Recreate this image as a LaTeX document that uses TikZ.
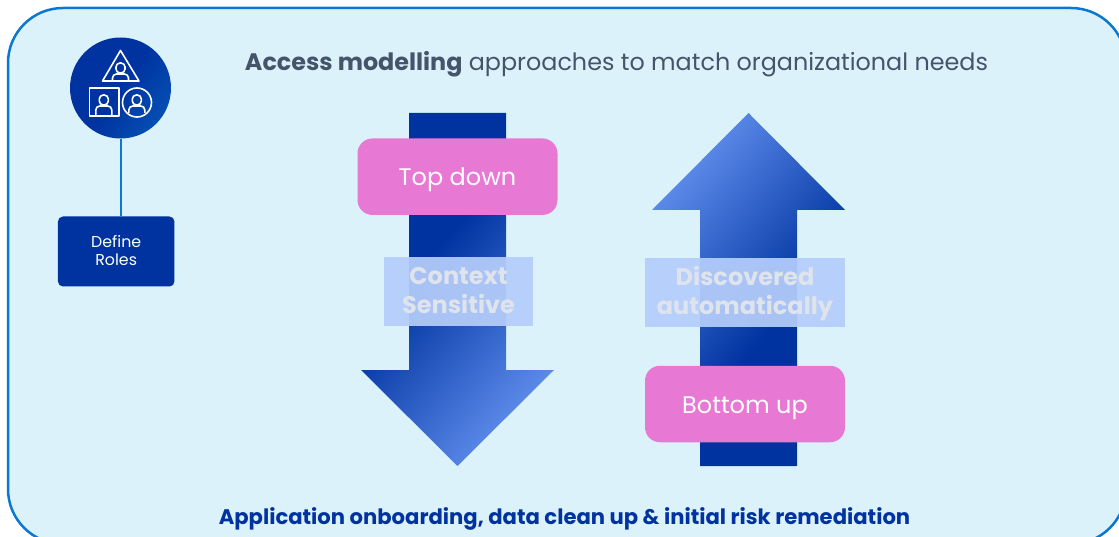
\documentclass[tikz,border=0pt]{standalone}
\usepackage{fontspec}
\setmainfont{Poppins}
\usetikzlibrary{positioning}
\definecolor{panelfill}{HTML}{DCF2FB}
\definecolor{panelline}{HTML}{0A78D2}
\definecolor{navy}{HTML}{0033A0}
\definecolor{sky}{HTML}{5C8BEA}
\definecolor{pinkbox}{HTML}{E779D4}
\definecolor{paleband}{HTML}{B5CDFB}
\definecolor{paletext}{HTML}{DFE4EC}
\definecolor{titlegrey}{HTML}{44546A}
\pgfdeclarehorizontalshading{arrowfade}{100bp}{color(0bp)=(navy); color(42bp)=(navy); color(74bp)=(sky); color(100bp)=(sky)}
\pgfdeclarehorizontalshading{iconfade}{100bp}{color(0bp)=(navy); color(50bp)=(navy); color(75bp)=(navy!60!panelline); color(100bp)=(navy!60!panelline)}
\tikzset{
	tagbox/.style={fill=pinkbox,text=white,rounded corners=15pt,minimum width=200pt,minimum height=76.5pt,text height=18pt,text depth=0pt,font=\fontsize{24}{28}\selectfont},
	paleboxes/.style={fill=paleband,fill opacity=0.93,text opacity=1,text=paletext,align=center,minimum height=69pt,text depth=2pt,font=\fontsize{24}{29}\selectfont\bfseries},
	bigarrow/.style={shading=arrowfade},
	iconline/.style={draw=white,line width=1.6pt,line join=round}
}
\newcommand{\personglyph}[3]{
	\draw[iconline,rounded corners=4pt] (#1-4.5,#2) rectangle (#1+4.5,#2+10);
	\draw[iconline,rounded corners=4pt] (#1-8,#3) -- (#1-8,#2+11) -- (#1+8,#2+11) -- (#1+8,#3);
}
\begin{document}
\begin{tikzpicture}[x=1pt,y=-1pt]
	\useasboundingbox (0,0) rectangle (1119,537);
	\clip (0,0) rectangle (1119,537);
	\draw[panelline,fill=panelfill,line width=2.5pt,rounded corners=55pt] (8,8) rectangle (1126,544);

	\node[anchor=base,font=\fontsize{23.85}{28}\selectfont,text=titlegrey] (title) at (616.5,71) {\textbf{Access modelling} approaches to match organizational needs};

	\node[circle,shading=iconfade,shading angle=-35,minimum size=101pt,inner sep=0pt] (icon) at (120.5,88) {};
	\node[fill=navy,rounded corners=5pt,minimum width=116.5pt,minimum height=70pt,align=center,text=white,text depth=2pt,font=\fontsize{15.8}{18}\selectfont] (roles) at (116.2,251.5) {Define\\Roles};
	\draw[panelline,line width=2pt] (icon.south) -- (icon.south |- roles.north);

	\draw[iconline] (120.5,50.5) -- (139,81) -- (102.5,81) -- cycle;
	\draw[iconline] (89.5,88) rectangle (119,116);
	\draw[iconline] (137,102.5) circle[radius=14.5];
	\personglyph{120.5}{63}{81}
	\personglyph{103.8}{95}{116}
	\personglyph{136.8}{95}{113}

	\path[bigarrow,shading angle=-40] (409,113) -- (506,113) -- (506,370) -- (554,370) -- (457.5,466) -- (361,370) -- (409,370) -- cycle;
	\path[bigarrow,shading angle=140] (700,466) -- (797,466) -- (797,210) -- (845,210) -- (748.5,113) -- (652,210) -- (700,210) -- cycle;

	\node[tagbox] (topdown) at (457.5,176.7) {Top down};
	\node[tagbox] (bottomup) at (745,404) {Bottom up};
	\node[paleboxes,minimum width=149pt] (context) at (458.5,291.5) {Context\\Sensitive};
	\node[paleboxes,minimum width=200pt,text depth=4pt] (discovered) at (745,292.5) {Discovered\\automatically};

	\node[anchor=base,font=\fontsize{21.14}{24}\selectfont\bfseries,text=navy] (footer) at (564.5,524.5) {Application onboarding, data clean up \& initial risk remediation};
\end{tikzpicture}
\end{document}
